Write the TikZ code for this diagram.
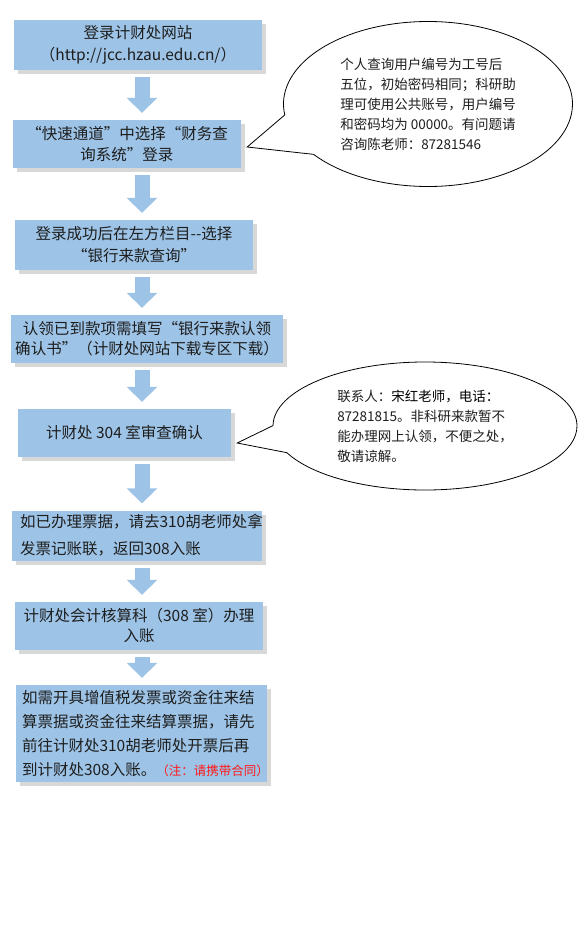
\documentclass[tikz,border=0pt]{standalone}
\usepackage{fontspec}
\setmainfont{Noto Sans CJK SC}
\usetikzlibrary{arrows.meta,calc,shadows,shapes.callouts}
\definecolor{boxblue}{HTML}{9DC3E6}
\definecolor{inktext}{HTML}{1E1E1E}
\definecolor{notered}{HTML}{FF1A1A}
\tikzset{
  stepbox/.style={draw=none,fill=boxblue,inner sep=4pt,text=inktext,align=center,
    font=\fontsize{15.5}{22}\selectfont,
    drop shadow={shadow xshift=4pt,shadow yshift=-4pt,opacity=0.3}},
  flow/.style={draw=boxblue,line width=15pt,-{Triangle[width=30pt,length=15pt]},
    shorten <=7pt,shorten >=7pt},
  bubble/.style={ellipse callout,draw=black,fill=white,line width=0.8pt,text=inktext,
    align=left,font=\fontsize{13.5}{20}\selectfont}
}

\begin{document}
\begin{tikzpicture}[x=1pt,y=-1pt]
\path[use as bounding box,fill=white] (0,0) rectangle (578,950);
\coordinate (axis) at (142,0);
% steps
\node[stepbox,minimum width=248pt,minimum height=50pt] (b1) at (138,45)
  {登录计财处网站\\（http://jcc.hzau.edu.cn/）};
\node[stepbox,minimum width=228pt,minimum height=48pt,font=\fontsize{15.5}{21}\selectfont] (b2) at (127,144)
  {“快速通道”中选择“财务查\\询系统”登录};
\node[stepbox,minimum width=238pt,minimum height=50pt] (b3) at (134,245)
  {登录成功后在左方栏目-{}-选择\\“银行来款查询”};
\node[stepbox,minimum width=260pt,minimum height=48pt,font=\fontsize{15.5}{20}\selectfont] (b4) at (147,339)
  {认领已到款项需填写“银行来款认领\\确认书”（计财处网站下载专区下载）};
\node[stepbox,minimum width=213pt,minimum height=48pt] (b5) at (124.5,433)
  {计财处 304 室审查确认};
\node[stepbox,text width=234pt,inner xsep=8pt,minimum height=49pt,align=left,font=\fontsize{15.5}{27}\selectfont] (b6) at (137,535.5)
  {如已办理票据，请去310胡老师处拿\\发票记账联，返回308入账};
\node[stepbox,minimum width=248pt,minimum height=48pt,font=\fontsize{15.5}{20}\selectfont] (b7) at (139,626)
  {计财处会计核算科（308 室）办理\\入账};
\node[stepbox,text width=239pt,inner xsep=6pt,minimum height=97pt,align=left,font=\fontsize{15.5}{24}\selectfont] (b8) at (141.5,733.5)
  {如需开具增值税发票或资金往来结\\算票据或资金往来结算票据，请先\\前往计财处310胡老师处开票后再\\到计财处308入账。{\color{notered}\fontsize{12.5}{24}\selectfont（注：请携带合同）}};
% arrows
\draw[flow] (b1.south -| axis) -- (b2.north -| axis);
\draw[flow] (b2.south -| axis) -- (b3.north -| axis);
\draw[flow] (b3.south -| axis) -- (b4.north -| axis);
\draw[flow] (b4.south -| axis) -- (b5.north -| axis);
\draw[flow] (b5.south -| axis) -- (b6.north -| axis);
\draw[flow] (b6.south -| axis) -- (b7.north -| axis);
\draw[flow] (b7.south -| axis) -- (b8.north -| axis);
% notes
\node[bubble,minimum width=289pt,minimum height=165pt,callout pointer arc=30,
  callout absolute pointer={($(b2.east)+(6,3)$)}] (n1) at (428,104)
  {个人查询用户编号为工号后\\五位，初始密码相同；科研助\\理可使用公共账号，用户编号\\和密码均为 00000。有问题请\\咨询陈老师：87281546};
\node[bubble,minimum width=304pt,minimum height=128pt,callout pointer arc=25,
  callout absolute pointer={($(b5.east)+(6,10)$)}] (n2) at (425,426)
  {联系人：{\color{black}宋红老师，电话：}\\87281815。非科研来款暂不\\能办理网上认领，不便之处，\\敬请谅解。};
\end{tikzpicture}
\end{document}
